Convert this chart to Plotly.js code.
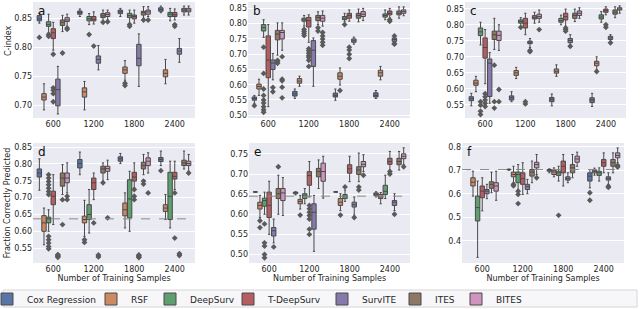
<!DOCTYPE html>
<html><head><meta charset="utf-8">
<script src="https://cdn.plot.ly/plotly-3.0.1.min.js"></script>
<style>html,body{margin:0;padding:0;background:#fff}#chart{width:640px;height:309px}</style>
</head><body><div id="chart"></div>
<script>
const methods = ['Cox Regression','RSF','DeepSurv','T-DeepSurv','SurvITE','ITES','BITES'];
const colors = ['#5975a4','#cc8963','#5f9e6e','#b55d60','#857aab','#8d7866','#d095bf'];
const sizes = ['600','1200','1800','2400'];
const panelLetters = ['a','b','c','d','e','f'];
const baselines = [null, null, null, 0.637, 0.645, 0.704];

// boxes*[method][sizeIndex] = [lowerWhisker, q1, median, q3, upperWhisker]
// fliers*[method][sizeIndex] = outlier values
const boxesA = [
 [[0.8415,0.8455,0.849,0.8545,0.8585],[0.853,0.857,0.86,0.8625,0.866],[0.853,0.858,0.861,0.864,0.867],[0.8595,0.862,0.865,0.868,0.871]],
 [[0.692,0.709,0.714,0.720,0.737],[0.692,0.714,0.723,0.730,0.741],[0.743,0.755,0.761,0.766,0.777],[0.737,0.749,0.755,0.761,0.779]],
 [[0.825,0.836,0.839,0.844,0.857],[0.839,0.8455,0.849,0.853,0.858],[0.8415,0.851,0.8545,0.8585,0.864],[0.8455,0.853,0.857,0.86,0.867]],
 [[0.795,0.815,0.825,0.832,0.843],[0.84,0.8455,0.848,0.853,0.861],[0.8415,0.849,0.853,0.8555,0.864],[0.847,0.853,0.856,0.86,0.866]],
 [[0.685,0.699,0.727,0.745,0.767],[0.761,0.7725,0.779,0.785,0.803],[0.7325,0.768,0.781,0.805,0.823],[0.774,0.788,0.7935,0.798,0.815]],
 [[0.827,0.8375,0.843,0.847,0.855],[0.845,0.851,0.854,0.858,0.864],[0.85,0.8555,0.86,0.862,0.87],[0.8555,0.861,0.864,0.867,0.871]],
 [[0.836,0.8445,0.847,0.851,0.857],[0.847,0.853,0.8565,0.8595,0.864],[0.853,0.857,0.861,0.864,0.87],[0.8555,0.861,0.864,0.867,0.871]]
];
const fliersA = [
 [[0.817],[],[],[]],
 [[],[],[0.738,0.734],[]],
 [[0.822,0.819],[0.822],[0.839,0.836],[]],
 [[0.788,0.73,0.726,0.72,0.706],[0.802],[],[0.839,0.836]],
 [[],[],[],[]],
 [[0.79],[0.843],[0.847],[]],
 [[0.833,0.831],[0.844],[0.847],[]]
];
const boxesB = [
 [[0.539,0.5495,0.555,0.56,0.565],[0.555,0.563,0.570,0.578,0.586],[0.549,0.56,0.565,0.5725,0.586],[0.555,0.56,0.565,0.5735,0.581]],
 [[0.565,0.586,0.594,0.602,0.618],[0.595,0.605,0.612,0.62,0.628],[0.599,0.618,0.628,0.639,0.655],[0.616,0.628,0.639,0.6475,0.66]],
 [[0.755,0.776,0.787,0.797,0.813],[0.792,0.808,0.813,0.818,0.827],[0.806,0.813,0.818,0.8235,0.834],[0.813,0.8215,0.827,0.832,0.845]],
 [[0.528,0.623,0.681,0.76,0.797],[0.739,0.789,0.81,0.8205,0.829],[0.808,0.818,0.827,0.834,0.845],[0.818,0.829,0.834,0.8415,0.85]],
 [[0.616,0.65,0.671,0.681,0.702],[0.595,0.66,0.713,0.7445,0.753],[0.733,0.739,0.744,0.75,0.756],[0.737,0.742,0.748,0.753,0.757]],
 [[0.697,0.747,0.766,0.778,0.8025],[0.797,0.81,0.8205,0.827,0.839],[0.806,0.818,0.827,0.834,0.848],[0.818,0.829,0.834,0.8415,0.855]],
 [[0.713,0.75,0.771,0.778,0.8025],[0.792,0.808,0.818,0.827,0.8415],[0.81,0.8235,0.831,0.8395,0.85],[0.826,0.834,0.8395,0.845,0.855]]
];
const fliersB = [
 [[0.5315],[],[],[]],
 [[],[],[0.581],[]],
 [[0.723,0.637,0.586,0.565,0.55,0.54,0.528,0.518,0.51],[0.781,0.774,0.768,0.761],[0.797],[]],
 [[],[0.718,0.711,0.703,0.695,0.69,0.68,0.66],[0.723,0.714,0.70,0.686],[0.813,0.808]],
 [[0.591,0.577],[],[],[0.735,0.76,0.733]],
 [[0.68,0.675,0.67],[0.787,0.776],[],[]],
 [[0.692,0.618,0.613,0.592,0.557],[0.771,0.76,0.75,0.739,0.729],[],[]]
];
const boxesC = [
 [[0.547,0.563,0.569,0.5755,0.586],[0.56,0.565,0.572,0.578,0.591],[0.547,0.56,0.567,0.573,0.584],[0.545,0.557,0.565,0.572,0.586]],
 [[0.591,0.611,0.618,0.627,0.639],[0.632,0.642,0.65,0.657,0.667],[0.639,0.649,0.655,0.662,0.675],[0.659,0.672,0.68,0.686,0.70]],
 [[0.737,0.766,0.778,0.79,0.808],[0.795,0.805,0.81,0.815,0.822],[0.80,0.808,0.813,0.82,0.83],[0.808,0.818,0.824,0.831,0.841]],
 [[0.616,0.696,0.729,0.759,0.785],[0.769,0.79,0.805,0.82,0.836],[0.795,0.815,0.8255,0.836,0.849],[0.831,0.839,0.844,0.849,0.856]],
 [[0.555,0.576,0.68,0.693,0.713],[0.729,0.741,0.745,0.749,0.757],[0.737,0.744,0.751,0.757,0.769],[0.749,0.754,0.759,0.764,0.769]],
 [[0.723,0.754,0.769,0.78,0.82],[0.805,0.818,0.823,0.8285,0.839],[0.81,0.82,0.829,0.836,0.849],[0.822,0.833,0.839,0.846,0.856]],
 [[0.72,0.751,0.767,0.78,0.80],[0.808,0.82,0.8255,0.833,0.846],[0.82,0.829,0.836,0.843,0.853],[0.836,0.846,0.849,0.853,0.859]]
];
const fliersC = [
 [[],[],[],[]],
 [[],[],[],[0.654]],
 [[0.56,0.549,0.53,0.52],[0.792],[],[]],
 [[0.585,0.575,0.565,0.555,0.545],[0.56,0.553],[0.79,0.785,0.78],[0.80,0.792]],
 [[],[0.72,0.716],[0.733],[0.744]],
 [[0.674,0.56,0.54],[],[],[]],
 [[0.598,0.56],[0.785],[],[]]
];
const boxesD = [
 [[0.722,0.761,0.773,0.785,0.815],[0.768,0.788,0.801,0.813,0.835],[0.801,0.808,0.815,0.821,0.831],[0.795,0.807,0.813,0.819,0.838]],
 [[0.56,0.60,0.625,0.6465,0.669],[0.585,0.625,0.635,0.645,0.692],[0.61,0.646,0.664,0.684,0.714],[0.635,0.659,0.669,0.679,0.709]],
 [[0.60,0.625,0.637,0.642,0.664],[0.595,0.635,0.65,0.679,0.724],[0.60,0.64,0.696,0.753,0.778],[0.61,0.635,0.704,0.775,0.808]],
 [[0.62,0.679,0.704,0.719,0.768],[0.694,0.724,0.744,0.758,0.773],[0.729,0.749,0.761,0.775,0.803],[0.724,0.755,0.763,0.775,0.808]],
 [[0.527,0.527,0.527,0.527,0.527],[0.527,0.527,0.527,0.527,0.527],[0.526,0.526,0.526,0.526,0.526],[0.531,0.531,0.531,0.531,0.531]],
 [[0.709,0.734,0.758,0.773,0.798],[0.749,0.773,0.785,0.793,0.803],[0.768,0.785,0.795,0.805,0.828],[0.785,0.795,0.803,0.811,0.838]],
 [[0.714,0.744,0.758,0.773,0.803],[0.753,0.778,0.786,0.793,0.811],[0.773,0.795,0.808,0.818,0.833],[0.778,0.795,0.801,0.808,0.828]]
];
const fliersD = [
 [[],[],[],[0.78]],
 [[],[0.575,0.567],[],[]],
 [[0.768,0.758,0.748,0.738,0.728,0.718,0.709,0.585,0.575,0.565,0.555,0.548],[],[],[]],
 [[],[0.625],[0.724,0.704,0.694],[0.714,0.58]],
 [[0.523,0.525,0.529,0.531],[0.524,0.53],[0.522,0.524,0.528,0.530],[0.528,0.534]],
 [[0.694,0.62],[0.744],[0.749,0.74],[]],
 [[0.704,0.694],[0.64],[0.714],[0.773]]
];
const boxesE = [
 [[0.6555,0.6555,0.6555,0.6555,0.6555],[0.648,0.651,0.654,0.655,0.656],[0.6555,0.6555,0.6555,0.6555,0.6555],[0.643,0.646,0.65,0.653,0.656]],
 [[0.592,0.613,0.622,0.63,0.647],[0.613,0.626,0.632,0.637,0.647],[0.609,0.622,0.63,0.639,0.651],[0.626,0.639,0.643,0.649,0.654]],
 [[0.60,0.62,0.634,0.64,0.655],[0.626,0.639,0.647,0.651,0.664],[0.632,0.639,0.645,0.649,0.66],[0.639,0.649,0.657,0.672,0.697]],
 [[0.55,0.592,0.622,0.655,0.682],[0.643,0.672,0.696,0.706,0.731],[0.681,0.702,0.713,0.723,0.744],[0.71,0.724,0.731,0.739,0.756]],
 [[0.529,0.546,0.559,0.567,0.588],[0.508,0.563,0.605,0.626,0.647],[0.598,0.618,0.624,0.63,0.643],[0.609,0.622,0.63,0.634,0.651]],
 [[0.60,0.639,0.651,0.664,0.697],[0.664,0.693,0.706,0.714,0.735],[0.681,0.699,0.71,0.718,0.752],[0.71,0.723,0.731,0.739,0.756]],
 [[0.597,0.634,0.653,0.664,0.691],[0.64,0.682,0.706,0.727,0.744],[0.706,0.718,0.724,0.731,0.748],[0.723,0.738,0.744,0.75,0.765]]
];
const fliersE = [
 [[],[],[],[]],
 [[0.584,0.567],[0.598],[0.598],[]],
 [[0.576,0.529,0.521,0.50,0.492],[],[0.668],[]],
 [[],[0.622,0.614,0.605,0.597,0.588,0.563,0.55],[],[0.706,0.70]],
 [[0.519],[],[0.592],[0.60]],
 [[0.718],[],[0.668,0.66],[]],
 [[],[],[0.697],[0.718]]
];
const boxesF = [
 [[0.704,0.704,0.704,0.704,0.704],[0.701,0.703,0.704,0.705,0.706],[0.69,0.697,0.701,0.704,0.707],[0.626,0.655,0.676,0.69,0.704]],
 [[0.591,0.634,0.65,0.669,0.697],[0.648,0.673,0.683,0.693,0.718],[0.673,0.683,0.694,0.701,0.711],[0.68,0.69,0.697,0.701,0.71]],
 [[0.33,0.485,0.542,0.591,0.655],[0.619,0.648,0.683,0.693,0.725],[0.655,0.679,0.69,0.697,0.718],[0.655,0.679,0.69,0.697,0.711]],
 [[0.528,0.584,0.612,0.634,0.669],[0.598,0.641,0.665,0.69,0.733],[0.634,0.69,0.718,0.74,0.768],[0.69,0.718,0.733,0.747,0.775]],
 [[0.58,0.601,0.612,0.619,0.641],[0.601,0.619,0.631,0.641,0.662],[0.648,0.659,0.665,0.673,0.69],[0.641,0.659,0.666,0.673,0.69]],
 [[0.605,0.624,0.641,0.652,0.693],[0.648,0.676,0.693,0.704,0.74],[0.669,0.69,0.711,0.725,0.768],[0.69,0.718,0.733,0.747,0.775]],
 [[0.573,0.612,0.634,0.648,0.697],[0.683,0.711,0.725,0.735,0.768],[0.718,0.735,0.749,0.761,0.778],[0.733,0.754,0.764,0.775,0.796]]
];
const fliersF = [
 [[],[],[],[0.605,0.573]],
 [[],[0.641,0.635],[],[]],
 [[],[0.612,0.598,0.559],[0.509],[]],
 [[],[],[],[]],
 [[],[],[],[0.633,0.628]],
 [[],[],[],[]],
 [[],[0.669],[],[0.721,0.715]]
];

const allBoxes = [boxesA, boxesB, boxesC, boxesD, boxesE, boxesF];
const allFliers = [fliersA, fliersB, fliersC, fliersD, fliersE, fliersF];
const yRanges = [[0.678,0.878],[0.491,0.871],[0.509,0.871],[0.506,0.862],[0.479,0.777],[0.306,0.817]];
const yTicks = [[0.70,0.75,0.80,0.85],[0.50,0.55,0.60,0.65,0.70,0.75,0.80,0.85],[0.55,0.60,0.65,0.70,0.75,0.80,0.85],
  [0.55,0.60,0.65,0.70,0.75,0.80,0.85],[0.50,0.55,0.60,0.65,0.70,0.75],[0.4,0.5,0.6,0.7,0.8]];
const yFormats = ['.2f','.2f','.2f','.2f','.2f','.1f'];

const W = 640, H = 309;
const xDomPx = [[33,195],[248,410],[465,626],[33,195],[249,410],[462,624]];
const yDomPx = [[2,118],[2,118],[2,118],[143,263],[143,263],[143,263]];
const FONT = 'DejaVu Sans, sans-serif';
const TXT = '#262626';
const EDGE = '#4a4a4a';
const hueStep = 0.8 / methods.length;
const legendTextX = [27,131,190,268,362,435,496];

const traces = [];
const layout = {
  width: W, height: H, margin: {l:0,r:0,t:0,b:0, autoexpand:false},
  paper_bgcolor: '#ffffff', plot_bgcolor: '#eaeaf2', boxmode: 'overlay',
  font: {family: FONT, size: 8, color: TXT},
  annotations: [], shapes: []
};

allBoxes.forEach((boxes, p) => {
  const sfx = p === 0 ? '' : String(p + 1);
  const xa = 'x' + sfx, ya = 'y' + sfx;
  layout['xaxis' + sfx] = {
    domain: [xDomPx[p][0]/W, xDomPx[p][1]/W], anchor: ya,
    range: [-0.5, 3.5], tickvals: sizes.map((s,i)=>i), ticktext: sizes,
    showgrid: false, zeroline: false, showline: false, ticks: '', automargin: false,
    tickfont: {family: FONT, size: 8, color: TXT},
    title: p >= 3 ? {text: 'Number of Training Samples', font: {family: FONT, size: 8, color: TXT}, standoff: 2} : undefined
  };
  layout['yaxis' + sfx] = {
    domain: [1 - yDomPx[p][1]/H, 1 - yDomPx[p][0]/H], anchor: xa,
    range: yRanges[p], tickvals: yTicks[p], tickformat: yFormats[p],
    showgrid: true, gridcolor: '#ffffff', gridwidth: 1, zeroline: false, showline: false, ticks: '', automargin: false,
    tickfont: {family: FONT, size: 8, color: TXT},
    title: p === 3 ? {text: 'Fraction Correctly Predicted', font: {family: FONT, size: 8, color: TXT}, standoff: 2} : undefined
  };
  layout.annotations.push({text: panelLetters[p], xref: xa + ' domain', yref: ya + ' domain', x: 0.02, y: 1.0,
    xanchor: 'left', yanchor: 'top', showarrow: false, font: {family: FONT, size: 12, color: '#111'}});
  if (baselines[p] !== null) {
    layout.shapes.push({type: 'line', xref: xa + ' domain', yref: ya, x0: 0, x1: 1, y0: baselines[p], y1: baselines[p],
      line: {color: '#8a8a8a', width: 1, dash: 'dash'}, layer: 'above'});
  }
  boxes.forEach((mb, m) => {
    const xs = sizes.map((s, g) => g + (m - 3) * hueStep);
    traces.push({
      type: 'box', x: xs, xaxis: xa, yaxis: ya,
      lowerfence: mb.map(b => b[0]), q1: mb.map(b => b[1]), median: mb.map(b => b[2]),
      q3: mb.map(b => b[3]), upperfence: mb.map(b => b[4]),
      width: hueStep * 0.95, whiskerwidth: 0.5, boxpoints: false,
      fillcolor: colors[m], line: {color: EDGE, width: 1},
      name: methods[m], legendgroup: methods[m], showlegend: p === 0,
      legend: m === 0 ? 'legend' : 'legend' + (m + 1), hoverinfo: 'skip'
    });
    const fx = [], fy = [];
    allFliers[p][m].forEach((vals, g) => vals.forEach(v => { fx.push(g + (m - 3) * hueStep); fy.push(v); }));
    if (fx.length) traces.push({
      type: 'scatter', mode: 'markers', x: fx, y: fy, xaxis: xa, yaxis: ya, showlegend: false,
      marker: {symbol: 'diamond', size: 4.5, color: '#5a5a5a', line: {width: 0}}, hoverinfo: 'skip'
    });
  });
});

layout.annotations.push({text: 'C-index', xref: 'paper', yref: 'paper', x: 9/W, y: 1 - 41/H,
  xanchor: 'center', yanchor: 'middle', textangle: -90, showarrow: false, font: {family: FONT, size: 8, color: TXT}});

methods.forEach((name, m) => {
  const key = m === 0 ? 'legend' : 'legend' + (m + 1);
  layout[key] = {x: (legendTextX[m] - 40)/W, y: 1 - 299/H, xanchor: 'left', yanchor: 'middle',
    orientation: 'h', bgcolor: 'rgba(0,0,0,0)', borderwidth: 0, itemwidth: 30,
    font: {family: FONT, size: 9, color: TXT}};
});
layout.shapes.push({type: 'rect', xref: 'paper', yref: 'paper', x0: 3/W, x1: 637/W, y0: 1 - 307/H, y1: 1 - 290/H,
  fillcolor: '#f7f7f9', line: {color: '#d6d6d6', width: 1}, layer: 'below'});

Plotly.newPlot('chart', traces, layout, {displayModeBar: false, staticPlot: true});
</script></body></html>
